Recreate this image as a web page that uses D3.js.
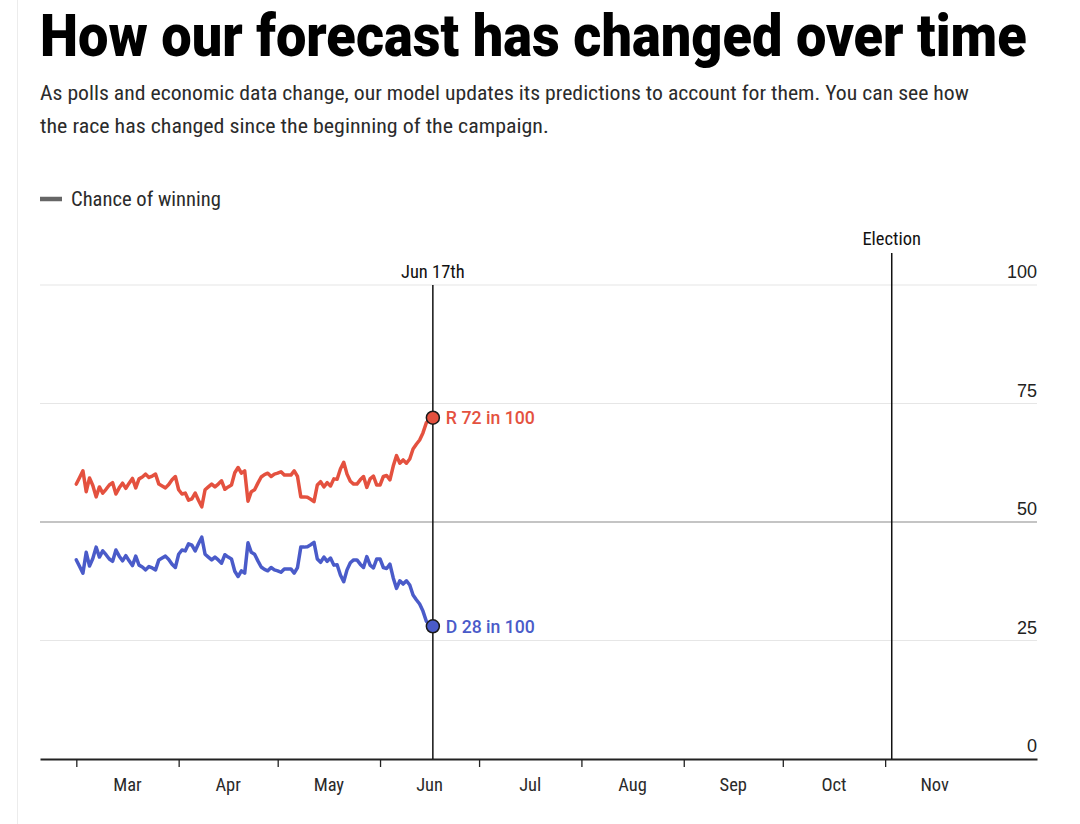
<!DOCTYPE html>
<html>
<head>
<meta charset="utf-8">
<script src="https://cdn.jsdelivr.net/npm/d3@7"></script>
<style>
  html, body { margin: 0; padding: 0; background: #fff; }
  svg { display: block; }
</style>
</head>
<body>
<svg id="chart" width="1080" height="824"></svg>
<script>
// ---------------- DATA ----------------
const title = "How our forecast has changed over time";
const subtitleLines = [
  "As polls and economic data change, our model updates its predictions to account for them. You can see how",
  "the race has changed since the beginning of the campaign."
];
const legendLabel = "Chance of winning";
const seriesStart = "2020-03-01";   // daily values from Mar 1 to Jun 17
const seriesEnd = "2020-06-17";
const repChance = [
  58.0,59.4,60.8,56.4,59.3,57.7,55.3,57.4,56.1,56.9,57.8,58.3,55.9,57.2,58.2,57.1,58.2,59.2,57.2,59.1,
  59.5,60.1,59.4,59.7,60.1,58.0,57.6,57.2,57.9,58.9,59.6,56.8,55.9,56.1,54.6,54.9,56.1,54.6,53.2,56.8,
  57.4,58.0,57.4,58.0,58.7,56.9,57.4,57.8,60.4,61.5,60.3,60.8,54.4,56.4,56.8,58.2,59.5,60.0,60.3,59.6,
  60.1,60.3,60.6,59.9,59.9,59.9,60.8,59.6,55.3,55.3,55.2,54.8,54.3,57.8,58.5,57.4,58.3,57.6,59.1,59.0,
  61.2,62.6,60.1,58.6,58.0,58.0,58.9,59.6,57.3,59.1,59.7,57.8,57.8,59.6,59.8,58.9,61.8,64.0,62.4,63.1,
  62.4,63.3,65.4,66.4,67.3,68.8,70.9,71.5,72.0
];
const demChance = [
  42.0,40.6,39.2,43.6,40.7,42.3,44.7,42.6,43.9,43.1,42.2,41.7,44.1,42.8,41.8,42.9,41.8,40.8,42.8,40.9,
  40.5,39.9,40.6,40.3,39.9,42.0,42.4,42.8,42.1,41.1,40.4,43.2,44.1,43.9,45.4,45.1,43.9,45.4,46.8,43.2,
  42.6,42.0,42.6,42.0,41.3,43.1,42.6,42.2,39.6,38.5,39.7,39.2,45.6,43.6,43.2,41.8,40.5,40.0,39.7,40.4,
  39.9,39.7,39.4,40.1,40.1,40.1,39.2,40.4,44.7,44.7,44.8,45.2,45.7,42.2,41.5,42.6,41.7,42.4,40.9,41.0,
  38.8,37.4,39.9,41.4,42.0,42.0,41.1,40.4,42.7,40.9,40.3,42.2,42.2,40.4,40.2,41.1,38.2,36.0,37.6,36.9,
  37.6,36.7,34.6,33.6,32.7,31.2,29.1,28.5,28.0
];
const repLabel = "R 72 in 100";
const demLabel = "D 28 in 100";
const todayLabel = "Jun 17th";
const todayDate = "2020-06-17";
const electionLabel = "Election";
const electionDate = "2020-11-03";
const monthStarts = ["2020-03-01","2020-04-01","2020-05-01","2020-06-01","2020-07-01","2020-08-01","2020-09-01","2020-10-01","2020-11-01","2020-12-01"];
const monthLabels = ["Mar","Apr","May","Jun","Jul","Aug","Sep","Oct","Nov"];
const yTicks = [0, 25, 50, 75, 100];
const xDomain = ["2020-02-19", "2020-12-17"];

// ---------------- SETUP ----------------
(function () {
const parse = d3.timeParse("%Y-%m-%d");
const svg = d3.select("#chart");
const W = 1080, H = 824;
const pL = 40, pR = 1037, pT = 285, pB = 759;

const condensed = "'Liberation Sans Narrow', 'Roboto Condensed', Roboto, sans-serif";
const regular = "'Liberation Sans', Roboto, Arial, sans-serif";

const x = d3.scaleTime().domain(xDomain.map(parse)).range([pL, pR]);
const y = d3.scaleLinear().domain([0, 100]).range([pB, pT]);

const dates = d3.timeDay.range(parse(seriesStart), d3.timeDay.offset(parse(seriesEnd), 1));
const repData = dates.map((d, i) => ({date: d, v: repChance[i]}));
const demData = dates.map((d, i) => ({date: d, v: demChance[i]}));

// horizontally squeeze a text to a target width (keeps true bounding box)
function fitText(sel, px, py, width) {
  const len = sel.node().getComputedTextLength();
  const s = len > 0 ? width / len : 1;
  sel.attr("x", 0).attr("y", 0).attr("transform", `translate(${px},${py}) scale(${s},1)`);
}

// faint left border
svg.append("line").attr("x1", 17.5).attr("x2", 17.5).attr("y1", 0).attr("y2", H)
  .attr("stroke", "#ececec").attr("stroke-width", 1);

// ---------------- TITLE ----------------
const tt = svg.append("text")
  .attr("font-family", "Roboto, 'Liberation Sans', sans-serif")
  .attr("font-weight", 900).attr("font-size", 60)
  .attr("fill", "#000")
  .text(title);
fitText(tt, pL, 56, 987);

const subLens = [929, 509];
subtitleLines.forEach((t, i) => {
  const s = svg.append("text")
    .attr("font-family", condensed).attr("font-size", 20.5)
    .attr("fill", "#2b2b2b")
    .text(t);
  fitText(s, pL, 100 + i * 33, subLens[i]);
});

// legend
svg.append("line").attr("x1", 40).attr("x2", 62).attr("y1", 199).attr("y2", 199)
  .attr("stroke", "#666").attr("stroke-width", 4.5);
const lg = svg.append("text")
  .attr("font-family", condensed).attr("font-size", 19.5).attr("fill", "#2b2b2b")
  .text(legendLabel);
fitText(lg, 71, 205.5, 150);

// ---------------- GRID ----------------
svg.append("g").selectAll("line").data(yTicks.filter(t => t !== 0)).join("line")
  .attr("x1", pL).attr("x2", pR)
  .attr("y1", d => y(d)).attr("y2", d => y(d))
  .attr("stroke", d => d === 50 ? "#c4c4c4" : "#e6e6e6")
  .attr("stroke-width", d => d === 50 ? 2 : 1.2);

svg.append("g").selectAll("text").data(yTicks).join("text")
  .attr("x", pR).attr("y", d => y(d) - 7)
  .attr("text-anchor", "end")
  .attr("font-family", regular).attr("font-size", 18).attr("fill", "#222")
  .text(d => d);

// ---------------- X AXIS ----------------
const monthDates = monthStarts.map(parse);
const xAxis = d3.axisBottom(x)
  .tickValues(monthDates.slice(0, monthLabels.length))
  .tickSize(8).tickSizeOuter(0).tickFormat("");
const gx = svg.append("g").attr("transform", `translate(0,${pB})`).call(xAxis);
gx.select(".domain").attr("stroke", "#222").attr("stroke-width", 2);
gx.selectAll(".tick line").attr("stroke", "#222").attr("stroke-width", 1.3);

svg.append("g").selectAll("text").data(monthLabels).join("text")
  .attr("x", (d, i) => (x(monthDates[i]) + x(monthDates[i + 1])) / 2)
  .attr("y", 791)
  .attr("text-anchor", "middle")
  .attr("font-family", condensed).attr("font-weight", 400).attr("font-size", 18.5).attr("fill", "#2a2a2a")
  .text(d => d);

// ---------------- MARKERS ----------------
const tX = x(parse(todayDate));
const eX = x(parse(electionDate));
svg.append("line").attr("x1", eX).attr("x2", eX).attr("y1", 253).attr("y2", pB)
  .attr("stroke", "#111").attr("stroke-width", 1.5);
svg.append("text").attr("x", eX).attr("y", 245).attr("text-anchor", "middle")
  .attr("font-family", condensed).attr("font-weight", 400).attr("font-size", 18.5).attr("fill", "#111")
  .text(electionLabel);

// ---------------- LINES ----------------
const line = d3.line().x(d => x(d.date)).y(d => y(d.v)).curve(d3.curveLinear);
svg.append("path").datum(repData).attr("d", line)
  .attr("fill", "none").attr("stroke", "#e4513f").attr("stroke-width", 3.5)
  .attr("stroke-linejoin", "round").attr("stroke-linecap", "round");
svg.append("path").datum(demData).attr("d", line)
  .attr("fill", "none").attr("stroke", "#4a5bc9").attr("stroke-width", 3.5)
  .attr("stroke-linejoin", "round").attr("stroke-linecap", "round");

svg.append("line").attr("x1", tX).attr("x2", tX).attr("y1", pT).attr("y2", pB)
  .attr("stroke", "#111").attr("stroke-width", 1.5);
svg.append("text").attr("x", tX).attr("y", 278).attr("text-anchor", "middle")
  .attr("font-family", condensed).attr("font-weight", 400).attr("font-size", 18.5).attr("fill", "#111")
  .text(todayLabel);

const lastR = repData[repData.length - 1], lastD = demData[demData.length - 1];
[[lastR, "#e4513f", repLabel], [lastD, "#4a5bc9", demLabel]].forEach(([p, c, lab]) => {
  svg.append("circle").attr("cx", x(p.date)).attr("cy", y(p.v)).attr("r", 6.5)
    .attr("fill", c).attr("stroke", "#1a1a1a").attr("stroke-width", 1.5);
  const t = svg.append("text")
    .attr("font-family", "Roboto, 'Liberation Sans', sans-serif").attr("font-weight", 500)
    .attr("font-size", 18.5).attr("fill", c)
    .text(lab);
  fitText(t, x(p.date) + 13, y(p.v) + 6.5, 89);
});
})();
</script>
</body>
</html>
